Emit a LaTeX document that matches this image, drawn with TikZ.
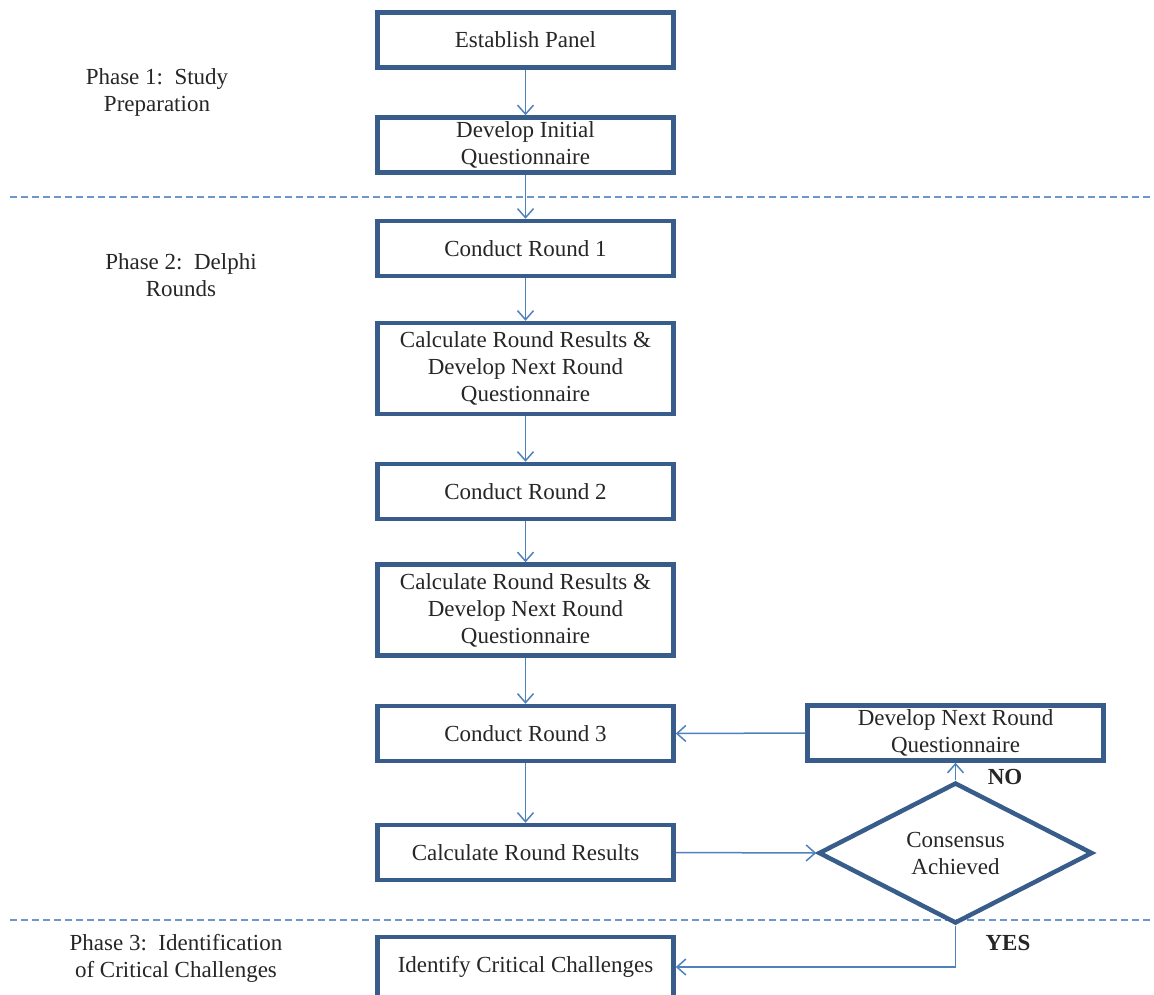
\documentclass[tikz,border=0pt]{standalone}
\usepackage{fontspec}
\setmainfont{Liberation Serif}
\usetikzlibrary{arrows.meta,shapes.geometric}
\definecolor{boxblue}{RGB}{56,93,138}
\definecolor{arrowblue}{RGB}{79,129,189}
\definecolor{dashblue}{RGB}{110,150,205}
\begin{document}
\begin{tikzpicture}[x=1pt,y=-1pt,
  every node/.style={font=\fontsize{23}{27}\selectfont, text=black!85},
  stepbox/.style={draw=boxblue, line width=4.5pt, minimum width=296pt, minimum height=55pt, inner sep=0pt, align=center, fill=white},
  tallbox/.style={stepbox, minimum height=91pt},
  decision/.style={diamond, draw=boxblue, line width=4.5pt, minimum width=274pt, minimum height=138pt, inner sep=0pt, align=center},
  flow/.style={draw=arrowblue, line width=1.5pt, -{Straight Barb[length=9pt,width=16pt]}},
  sep/.style={draw=dashblue, line width=1.5pt, dash pattern=on 7pt off 4pt},
  phase/.style={align=center, inner sep=0pt}
]
\useasboundingbox (0,0) rectangle (1154,994);
% phase separators
\coordinate (s1a) at (10,197); \coordinate (s1b) at (1154,197);
\coordinate (s2a) at (10,920); \coordinate (s2b) at (1154,920);
\draw[sep] (s1a) -- (s1b);
\draw[sep] (s2a) -- (s2b);
% phase labels
\node[phase] (p1) at (157,92) {Phase 1:\ \ Study\\Preparation};
\node[phase] (p2) at (181,275) {Phase 2:\ \ Delphi\\Rounds};
\node[phase] (p3) at (176,958) {Phase 3:\ \ Identification\\of Critical Challenges};
% main column
\node[stepbox] (b1) at (525.5,40) {Establish Panel};
\node[stepbox] (b2) at (525.5,145) {Develop Initial\\Questionnaire};
\node[stepbox] (b3) at (525.5,248.5) {Conduct Round 1};
\node[tallbox] (b4) at (525.5,368.5) {Calculate Round Results \&\\Develop Next Round\\Questionnaire};
\node[stepbox] (b5) at (525.5,491.5) {Conduct Round 2};
\node[tallbox] (b6) at (525.5,610) {Calculate Round Results \&\\Develop Next Round\\Questionnaire};
\node[stepbox] (b7) at (525.5,733.5) {Conduct Round 3};
\node[stepbox] (b8) at (525.5,852.5) {Calculate Round Results};
\node[stepbox, minimum height=60pt] (b9) at (525.5,967) {Identify Critical Challenges};
% right side
\node[stepbox] (r) at (955.5,733) {Develop Next Round\\Questionnaire};
\node[decision] (d) at (955.5,853) {Consensus\\Achieved};
\node[inner sep=0pt, font=\fontsize{23}{27}\selectfont\bfseries] (no) at (1005,777) {NO};
\node[inner sep=0pt, font=\fontsize{23}{27}\selectfont\bfseries] (yes) at (1008,943) {YES};
% connectors
\draw[flow] (b1) -- (b2);
\draw[flow] (b2) -- (b3);
\draw[flow] (b3) -- (b4);
\draw[flow] (b4) -- (b5);
\draw[flow] (b5) -- (b6);
\draw[flow] (b6) -- (b7);
\draw[flow] (b7) -- (b8);
\draw[flow] (b8.east) -- (d.west);
\draw[flow] (d.north) -- (r.south);
\draw[flow] (r.west) -- (b7.east);
\draw[flow] (d.south) |- (b9.east);
\end{tikzpicture}
\end{document}
